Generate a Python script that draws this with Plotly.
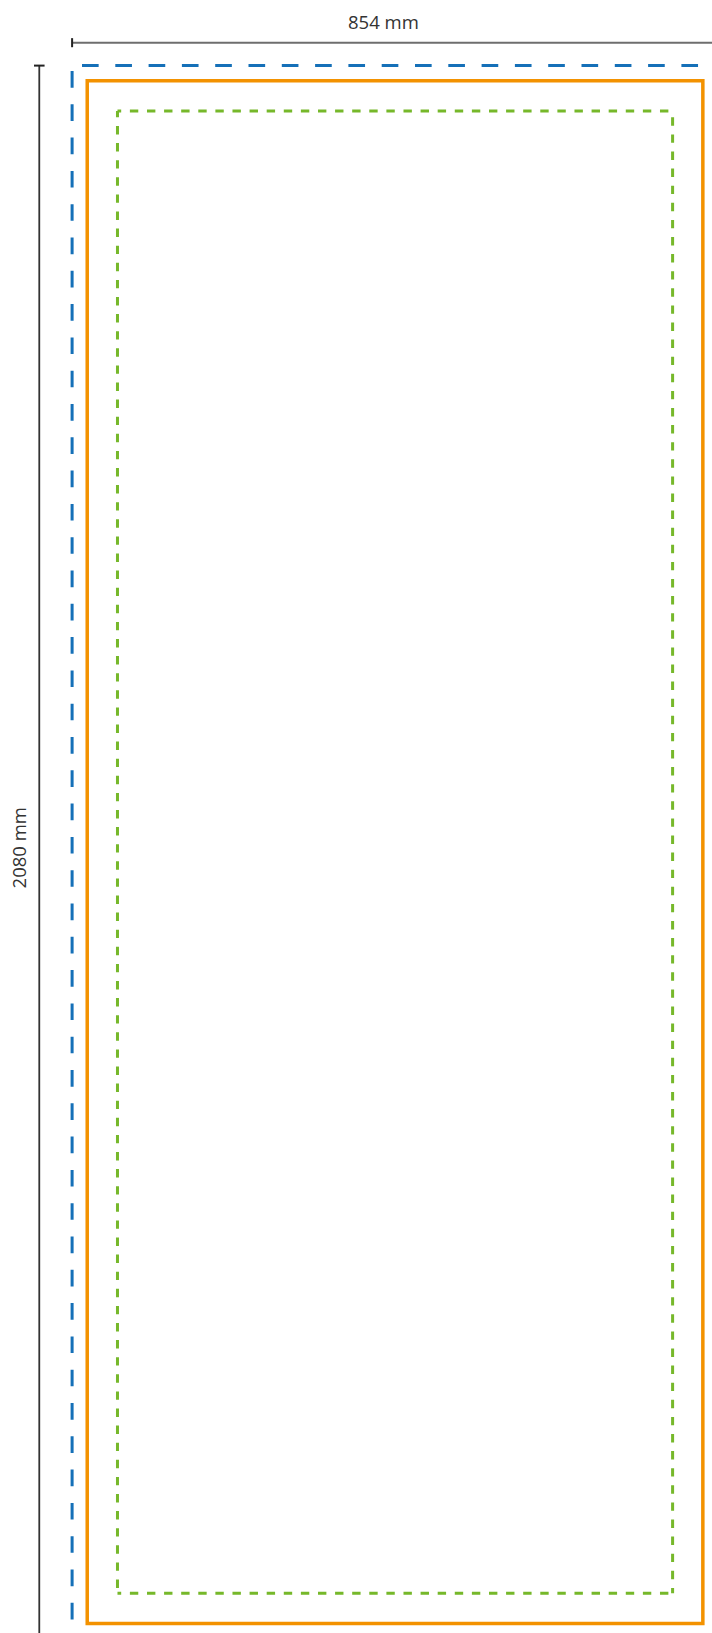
import plotly.graph_objects as go

# ---- data (mm) ----
bleed_width_mm = 854
bleed_height_mm = 2080
bleed_margin_mm = 20      # bleed -> trim
safe_margin_mm = 40       # trim -> safe zone
dim_labels = ["854 mm", "2080 mm"]

# ---- layout constants ----
W, H = 712, 1633
S = 0.7563                # px per mm
OX, OY = 72.1, 65.6       # pixel position of bleed origin

BLUE = "#1570b8"
ORANGE = "#f39200"
GREEN = "#76b82a"
TEXT = "#333333"

x_range = [-OX / S, (W - OX) / S]
y_range = [(H - OY) / S, -OY / S]   # reversed: y grows downward

bx0, by0, bx1, by1 = 0, 0, bleed_width_mm, bleed_height_mm
tx0, ty0 = bx0 + bleed_margin_mm, by0 + bleed_margin_mm
tx1, ty1 = bx1 - bleed_margin_mm, by1 - bleed_margin_mm
sx0, sy0 = tx0 + safe_margin_mm, ty0 + safe_margin_mm
sx1, sy1 = tx1 - safe_margin_mm, ty1 - safe_margin_mm

def line(x0, y0, x1, y1, color, width, dash="solid"):
    return dict(type="line", xref="x", yref="y", x0=x0, y0=y0, x1=x1, y1=y1,
                line=dict(color=color, width=width, dash=dash), layer="above")

shapes = []
# bleed (blue dashed)
shapes.append(line(bx0, by0, bx1, by0, BLUE, 3, "0px,9.9px,16.65px,6.75px"))
shapes.append(line(bx0, by0, bx0, by1, BLUE, 3, "0px,5.4px,16.65px,11.25px"))
shapes.append(line(bx1, by0, bx1, by1, BLUE, 3, "16.65px,16.65px"))
shapes.append(line(bx0, by1, bx1, by1, BLUE, 3, "16.65px,16.65px"))
# trim (orange solid)
shapes.append(dict(type="rect", xref="x", yref="y", x0=tx0, y0=ty0, x1=tx1, y1=ty1,
                   line=dict(color=ORANGE, width=3.5), fillcolor="rgba(0,0,0,0)"))
# safe zone (green dashed)
shapes.append(line(sx0, sy0, sx1, sy0, GREEN, 3, "3.7px,8.7px,4.7px,0px"))
shapes.append(line(sx0, sy0, sx0, sy1, GREEN, 3, "6.3px,8.7px,2.1px,0px"))
shapes.append(line(sx1, sy0, sx1, sy1, GREEN, 3, "0px,6.3px,8.4px,2.4px"))
shapes.append(line(sx0, sy1, sx1, sy1, GREEN, 3, "3.7px,8.7px,4.7px,0px"))

# dimension lines
hy = -30.3      # horizontal dimension line (mm)
vx = -43.4      # vertical dimension line (mm)
shapes.append(line(bx0, hy, bx1, hy, "#6e6e6e", 2))
shapes.append(line(bx0, hy - 6, bx0, hy + 6, "#222222", 2))
shapes.append(line(vx, by0, vx, by1, "#333333", 1.8))
shapes.append(line(vx - 7, by0, vx + 7, by0, "#222222", 2))

annotations = [
    dict(x=412, y=-58.3, xref="x", yref="y", text=dim_labels[0], showarrow=False,
         xanchor="center", yanchor="middle",
         font=dict(family="Open Sans", size=18.5, color=TEXT)),
    dict(x=-71.5, y=1035, xref="x", yref="y", text=dim_labels[1], showarrow=False,
         textangle=-90, xanchor="center", yanchor="middle",
         font=dict(family="Open Sans", size=18.5, color=TEXT)),
]

fig = go.Figure()
fig.add_trace(go.Scatter(x=[None], y=[None], mode="markers", showlegend=False, hoverinfo="skip"))
fig.update_layout(
    width=W, height=H,
    margin=dict(l=0, r=0, t=0, b=0, pad=0),
    paper_bgcolor="white", plot_bgcolor="white",
    showlegend=False,
    shapes=shapes, annotations=annotations,
    xaxis=dict(range=x_range, visible=False, fixedrange=True, domain=[0, 1]),
    yaxis=dict(range=y_range, visible=False, fixedrange=True, domain=[0, 1]),
)

fig.write_html("out.html", config={"displayModeBar": False},
               post_script="document.body.style.margin='0';document.body.style.overflow='hidden';")
